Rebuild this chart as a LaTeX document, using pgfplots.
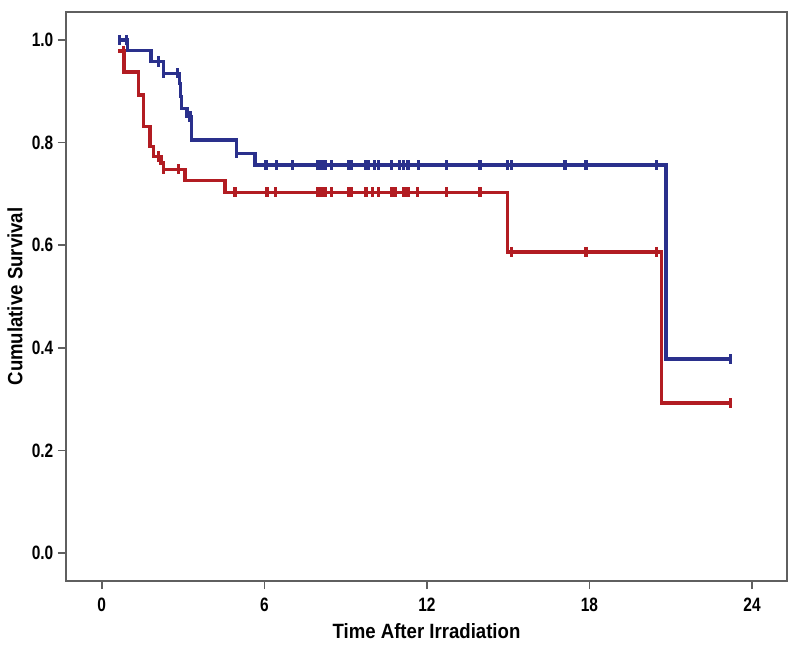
\documentclass[border=0pt]{standalone}
\usepackage{fontspec}
\setmainfont{Liberation Sans}[FakeStretch=0.9]
\newfontfamily\tickfont{Liberation Sans}[FakeStretch=0.8]
\usepackage{pgfplots}
\pgfplotsset{compat=1.18}
\definecolor{kmblue}{RGB}{42,48,140}
\definecolor{kmred}{RGB}{178,28,34}
\definecolor{axgray}{RGB}{95,95,95}
\begin{document}
\begin{tikzpicture}
\begin{axis}[
  scale only axis, width=540.75pt, height=426.75pt,
  xmin=-1.32, xmax=25.29, ymin=-0.0546, ymax=1.0546,
  xtick={0,6,12,18,24}, ytick={0,0.2,0.4,0.6,0.8,1.0},
  yticklabel style={/pgf/number format/.cd, fixed, fixed zerofill, precision=1},
  /pgf/number format/assume math mode=true,
  tick align=outside, xtick pos=bottom, ytick pos=left,
  major tick length=6pt,
  axis line style={axgray, line width=1.5pt},
  every tick/.style={axgray, line width=1.2pt},
  tick label style={font=\fontsize{14.5}{16}\selectfont\tickfont\bfseries},
  xticklabel style={yshift=-3pt},
  label style={font=\fontsize{15.5}{18}\selectfont\bfseries},
  xlabel style={yshift=-2pt},
  xlabel={Time After Irradiation}, ylabel={Cumulative Survival},
  clip=false,
]
% Blue group
\addplot[kmblue, line width=2.6pt, const plot, mark=none] coordinates {
 (0.61,1.0) (0.95,0.98) (1.82,0.958) (2.27,0.935) (2.86,0.915) (2.91,0.89)
 (2.95,0.867) (3.14,0.851) (3.32,0.805) (4.98,0.779) (5.66,0.756)
 (20.82,0.378) (23.19,0.378)
};
\addplot[kmblue, only marks, mark=|, mark size=3.8pt, mark options={line width=2.4pt}] coordinates {
 (0.64,1.0) (0.92,1.0) (2.1,0.958) (2.27,0.935) (2.8,0.935) (3.26,0.851) (4.96,0.779)
 (6.06,0.756) (6.45,0.756) (7.05,0.756) (7.95,0.756) (8.05,0.756) (8.15,0.756) (8.25,0.756)
 (8.49,0.756) (9.1,0.756) (9.2,0.756) (9.75,0.756) (9.85,0.756) (10.08,0.756) (10.2,0.756)
 (10.7,0.756) (11.0,0.756) (11.15,0.756) (11.3,0.756) (11.68,0.756) (12.73,0.756)
 (13.96,0.756) (14.98,0.756) (15.13,0.756) (17.1,0.756) (17.87,0.756) (20.47,0.756)
 (23.19,0.378)
};
% Red group
\addplot[kmred, line width=2.6pt, const plot, mark=none] coordinates {
 (0.6,0.979) (0.82,0.938) (1.35,0.893) (1.54,0.831) (1.78,0.792) (1.9,0.773)
 (2.18,0.76) (2.27,0.748) (3.07,0.726) (4.55,0.703) (14.97,0.587)
 (20.66,0.292) (23.19,0.292)
};
\addplot[kmred, only marks, mark=|, mark size=3.8pt, mark options={line width=2.4pt}] coordinates {
 (0.79,0.979) (2.09,0.773) (2.27,0.748) (2.83,0.748)
 (4.92,0.703) (6.1,0.703) (6.4,0.703) (7.95,0.703) (8.05,0.703) (8.15,0.703) (8.25,0.703)
 (8.49,0.703) (9.1,0.703) (9.2,0.703) (9.75,0.703) (10.0,0.703) (10.2,0.703) (10.7,0.703)
 (10.82,0.703) (11.13,0.703) (11.22,0.703) (11.31,0.703) (11.65,0.703) (12.73,0.703)
 (13.96,0.703) (15.13,0.587) (17.87,0.587) (20.47,0.587) (23.19,0.292)
};
\end{axis}
\path ([xshift=-49.5pt,yshift=-47.25pt]current axis.south west) rectangle ([xshift=9.75pt,yshift=9pt]current axis.north east);
\end{tikzpicture}
\end{document}
